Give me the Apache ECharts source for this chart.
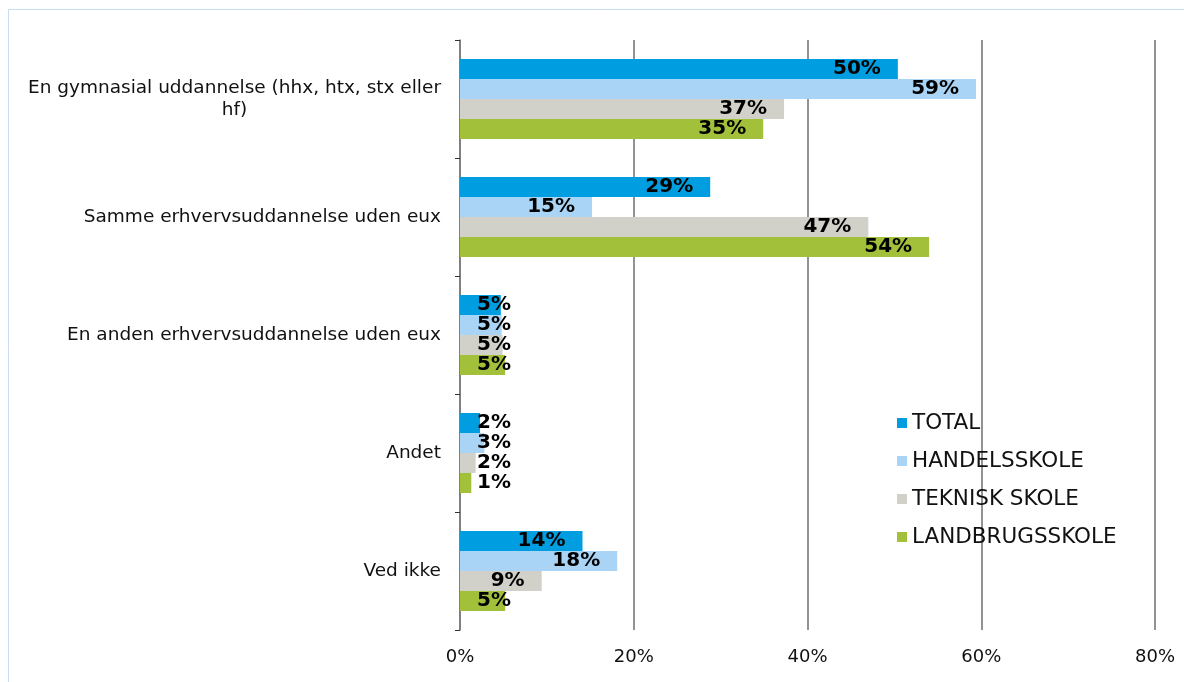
<!DOCTYPE html>
<html>
<head>
<meta charset="utf-8">
<script src="https://cdn.jsdelivr.net/npm/echarts@6/dist/echarts.min.js"></script>
<style>
    html, body { margin: 0; padding: 0; background: #fff; }
    #chart { width: 1184px; height: 682px; }
</style>
</head>
<body>
<div id="chart"></div>
<script>
    // kategorier (top -> bund)
    var categories = [
        'En gymnasial uddannelse (hhx, htx, stx eller\nhf)',
        'Samme erhvervsuddannelse uden eux',
        'En anden erhvervsuddannelse uden eux',
        'Andet',
        'Ved ikke'
    ]
    var seriesNames = ['TOTAL', 'HANDELSSKOLE', 'TEKNISK SKOLE', 'LANDBRUGSSKOLE']
    var total = [50.4, 28.8, 4.7, 2.3, 14.1]
    var handelsskole = [59.4, 15.2, 4.8, 2.8, 18.1]
    var tekniskSkole = [37.3, 47.0, 4.9, 1.8, 9.4]
    var landbrugsskole = [34.9, 54.0, 5.2, 1.3, 5.2]
    var xTicks = [0, 20, 40, 60, 80]

    var colors = ['#009EE0', '#A9D4F5', '#D1D0C9', '#A3C03A']

    var chart = echarts.init(document.getElementById('chart'))

    function makeData (values) {
        return values.map(function (v) {
            // små søjler: label starter fra basis
            if (v < 8) {
                return { value: v, label: { position: 'insideLeft' } }
            }
            return v
        })
    }

    var allValues = [total, handelsskole, tekniskSkole, landbrugsskole]

    var option = {
        color: colors,
        animation: false,
        graphic: [{
            type: 'rect',
            shape: { x: 8.5, y: 9.5, width: 1300, height: 800 },
            style: { fill: 'none', stroke: '#c8ddf0', lineWidth: 1 },
            silent: true
        }],
        grid: {
            left: 460,
            right: 29,
            top: 40,
            bottom: 52,
            containLabel: false
        },
        legend: {
            orient: 'vertical',
            left: 892,
            top: 407,
            itemWidth: 10,
            itemHeight: 10,
            itemGap: 16,
            icon: 'rect',
            textStyle: {
                fontFamily: 'DejaVu Sans',
                fontSize: 21.5,
                color: '#111',
                padding: [0, 0, 0, 0]
            },
            data: seriesNames
        },
        xAxis: {
            type: 'value',
            min: xTicks[0],
            max: xTicks[xTicks.length - 1],
            interval: 20,
            axisLine: { show: false },
            axisTick: { show: false },
            axisLabel: {
                margin: 18,
                fontFamily: 'DejaVu Sans',
                fontSize: 18,
                color: '#111',
                formatter: '{value}%'
            },
            splitLine: {
                lineStyle: { color: '#6f6f6f', width: 1.5 }
            }
        },
        yAxis: {
            type: 'category',
            inverse: true,
            data: categories,
            axisLine: {
                show: true,
                lineStyle: { color: '#7a7a7a', width: 1.5 }
            },
            axisTick: {
                show: true,
                length: 5,
                lineStyle: { color: '#333' }
            },
            axisLabel: {
                margin: 19,
                fontFamily: 'DejaVu Sans',
                fontSize: 18.5,
                color: '#111',
                lineHeight: 22,
                formatter: function (val) {
                    return val.split('\n').map(function (s) {
                        return '{c|' + s + '}'
                    }).join('\n')
                },
                rich: {
                    c: {
                        fontFamily: 'DejaVu Sans',
                        fontSize: 18.5,
                        color: '#111',
                        lineHeight: 22,
                        align: 'center'
                    }
                }
            }
        },
        series: seriesNames.map(function (name, i) {
            return {
                name: name,
                type: 'bar',
                barWidth: 20,
                barGap: '0%',
                data: makeData(allValues[i]),
                label: {
                    show: true,
                    position: 'insideRight',
                    distance: 17,
                    fontFamily: 'DejaVu Sans',
                    fontWeight: 'bold',
                    fontSize: 20,
                    color: '#000',
                    formatter: function (p) {
                        return Math.round(p.value) + '%'
                    }
                }
            }
        })
    }
    chart.setOption(option)
</script>
</body>
</html>
